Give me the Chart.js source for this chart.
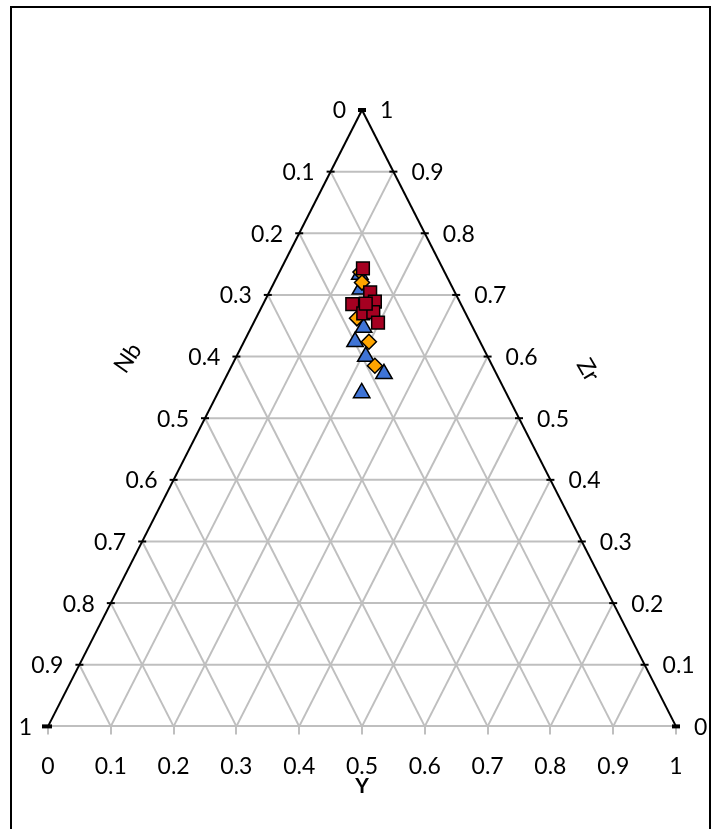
<!DOCTYPE html>
<html>
<head>
<meta charset="utf-8">
<script src="https://cdn.jsdelivr.net/npm/chart.js@4.4.1/dist/chart.umd.min.js"></script>
<style>
  body { margin: 0; background: #fff; }
</style>
</head>
<body>
<canvas id="ternary" width="720" height="829"></canvas>
<script>
// compositions, fractions Nb + Y + Zr = 1
const redNb = [0.127, 0.135, 0.173, 0.135, 0.163, 0.146, 0.147, 0.151]
const redY  = [0.130, 0.161, 0.142, 0.176, 0.167, 0.182, 0.198, 0.163]
const redZr = [0.743, 0.704, 0.685, 0.689, 0.670, 0.672, 0.655, 0.686]

const orangeNb = [0.134, 0.140, 0.177, 0.177, 0.187]
const orangeY  = [0.129, 0.140, 0.161, 0.199, 0.228]
const orangeZr = [0.737, 0.720, 0.662, 0.624, 0.585]

const blueNb = [0.137, 0.148, 0.174, 0.199, 0.194, 0.179, 0.230]
const blueY  = [0.130, 0.143, 0.179, 0.177, 0.206, 0.249, 0.229]
const blueZr = [0.733, 0.709, 0.647, 0.624, 0.600, 0.572, 0.541]

const tickLabels = ['0', '0.1', '0.2', '0.3', '0.4', '0.5', '0.6', '0.7', '0.8', '0.9', '1']

const FONT = 'Lato, "Open Sans", sans-serif'
const GRID = '#bfbfbf'

// ternary -> cartesian: x = Y + Zr/2, y = Zr
function toXY(nb, y, zr) {
  return nb.map((n, i) => {
    const s = n + y[i] + zr[i]
    return { x: (y[i] + zr[i] / 2) / s, y: zr[i] / s }
  })
}

const ternaryFrame = {
  id: 'ternaryFrame',
  beforeDatasetsDraw(chart) {
    const ctx = chart.ctx
    const sx = chart.scales.x, sy = chart.scales.y
    const px = (x, y) => [sx.getPixelForValue(x), sy.getPixelForValue(y)]
    const seg = (a, b) => {
      ctx.beginPath()
      ctx.moveTo(a[0], a[1])
      ctx.lineTo(b[0], b[1])
      ctx.stroke()
    }
    ctx.save()
    ctx.strokeStyle = GRID
    ctx.lineWidth = 2
    for (let k = 1; k < 10; k++) {
      const f = k / 10
      // constant Zr
      seg(px(f / 2, f), px(1 - f / 2, f))
      // constant Y
      seg(px(f, 0), px(f + (1 - f) / 2, 1 - f))
      // constant Nb
      seg(px(1 - f, 0), px((1 - f) / 2, 1 - f))
    }
    // edges
    ctx.strokeStyle = '#000'
    ctx.lineWidth = 2
    seg(px(0, 0), px(0.5, 1))
    seg(px(0.5, 1), px(1, 0))
    // small ticks on the sloped edges
    for (let k = 1; k < 10; k++) {
      const f = k / 10
      const l = px((1 - f) / 2, 1 - f)
      seg([l[0] - 4, l[1]], [l[0] + 4, l[1]])
      const r = px(1 - f / 2, f)
      seg([r[0] - 4, r[1]], [r[0] + 4, r[1]])
    }
    // vertex markers
    ctx.fillStyle = '#000'
    const top = px(0.5, 1), bl = px(0, 0), br = px(1, 0)
    ctx.fillRect(top[0] - 4, top[1] - 2, 8, 4)
    ctx.fillRect(bl[0] - 6, bl[1] - 2, 10, 4)
    ctx.fillRect(br[0] - 4, br[1] - 2, 8, 4)
    ctx.restore()
  },
  afterDraw(chart) {
    const ctx = chart.ctx
    const sx = chart.scales.x, sy = chart.scales.y
    const px = (x, y) => [sx.getPixelForValue(x), sy.getPixelForValue(y)]
    ctx.save()
    ctx.fillStyle = '#000'
    ctx.font = '23px ' + FONT
    ctx.textBaseline = 'middle'
    tickLabels.forEach((t, k) => {
      const f = k / 10
      // Nb along left edge: 0 at apex, 1 at bottom left
      const l = px((1 - f) / 2, 1 - f)
      ctx.textAlign = 'right'
      ctx.fillText(t, l[0] - 16, l[1] + 1)
      // Zr along right edge: 0 at bottom right, 1 at apex
      const r = px(1 - f / 2, f)
      ctx.textAlign = 'left'
      ctx.fillText(t, r[0] + 18, r[1] + 1)
    })
    ctx.textAlign = 'center'
    ctx.save()
    ctx.translate(128, 358)
    ctx.rotate(-55 * Math.PI / 180)
    ctx.fillText('Nb', 0, 0)
    ctx.restore()
    ctx.save()
    ctx.translate(588, 370)
    ctx.rotate(60 * Math.PI / 180)
    ctx.fillText('Zr', 0, 0)
    ctx.restore()
    // bottom axis title
    ctx.font = 'bold 21px ' + FONT
    ctx.fillText('Y', sx.getPixelForValue(0.5), sy.getPixelForValue(0) + 60)
    // outer frame
    ctx.strokeStyle = '#000'
    ctx.lineWidth = 2
    ctx.strokeRect(11, 7, 699, 840)
    ctx.restore()
  }
}

const ctx = document.getElementById('ternary').getContext('2d')
new Chart(ctx, {
  type: 'scatter',
  data: {
    datasets: [
      {
        label: 'red',
        data: toXY(redNb, redY, redZr),
        pointStyle: 'rect',
        pointRadius: 9,
        backgroundColor: '#a50021',
        borderColor: '#000',
        borderWidth: 1.5,
        order: 0
      },
      {
        label: 'orange',
        data: toXY(orangeNb, orangeY, orangeZr),
        pointStyle: 'rectRot',
        pointRadius: 7.5,
        backgroundColor: '#ffa500',
        borderColor: '#000',
        borderWidth: 1.5,
        order: 1
      },
      {
        label: 'blue',
        data: toXY(blueNb, blueY, blueZr),
        pointStyle: 'triangle',
        pointRadius: 9.5,
        backgroundColor: '#3f74d6',
        borderColor: '#000',
        borderWidth: 1.5,
        order: 2
      }
    ]
  },
  options: {
    responsive: false,
    animation: false,
    devicePixelRatio: 1,
    layout: { padding: { left: 48, right: 44, top: 110, bottom: 31 } },
    plugins: { legend: { display: false }, tooltip: { enabled: false } },
    scales: {
      x: {
        type: 'linear',
        min: 0,
        max: 1,
        ticks: {
          stepSize: 0.1,
          color: '#000',
          font: { family: FONT, size: 23 },
          padding: 18,
          maxRotation: 0,
          callback: (v, i) => tickLabels[i]
        },
        grid: { drawOnChartArea: false, color: GRID, lineWidth: 2, tickLength: 8 },
        border: { color: GRID, width: 2 }
      },
      y: { display: false, min: 0, max: 1 }
    }
  },
  plugins: [ternaryFrame]
})
</script>
</body>
</html>
